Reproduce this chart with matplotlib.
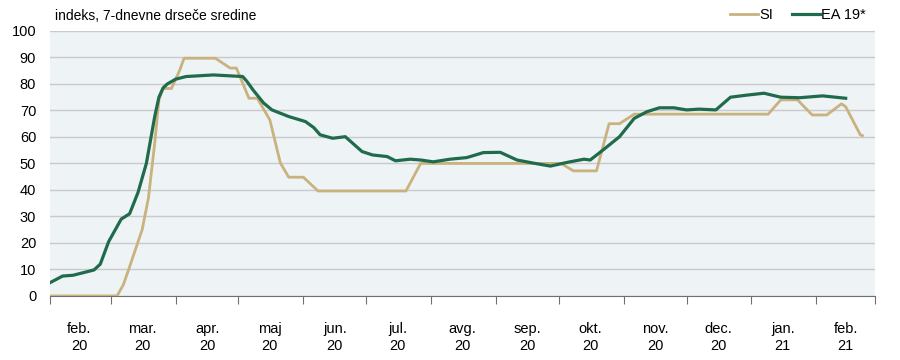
import numpy as np
import matplotlib
matplotlib.use('Agg')
import matplotlib.pyplot as plt

plt.rcParams['font.family'] = ['Liberation Sans', 'DejaVu Sans']

# EA 19* - 7-dnevne drseče sredine (odčitano s slike)
ea_dates = ['2020-02-01', '2020-02-07', '2020-02-12', '2020-02-18', '2020-02-22', '2020-02-25',
            '2020-02-29', '2020-03-06', '2020-03-10', '2020-03-14', '2020-03-18', '2020-03-22',
            '2020-03-24', '2020-03-26', '2020-03-28', '2020-04-01', '2020-04-06', '2020-04-19',
            '2020-05-03', '2020-05-05', '2020-05-08', '2020-05-13', '2020-05-17', '2020-05-25',
            '2020-06-02', '2020-06-06', '2020-06-09', '2020-06-15', '2020-06-21', '2020-06-29',
            '2020-07-04', '2020-07-11', '2020-07-15', '2020-07-22', '2020-07-27', '2020-08-02',
            '2020-08-10', '2020-08-18', '2020-08-26', '2020-09-03', '2020-09-11', '2020-09-19',
            '2020-09-27', '2020-10-05', '2020-10-13', '2020-10-16', '2020-10-22', '2020-10-30',
            '2020-11-06', '2020-11-12', '2020-11-18', '2020-11-25', '2020-12-01', '2020-12-07',
            '2020-12-15', '2020-12-22', '2020-12-30', '2021-01-07', '2021-01-15', '2021-01-24',
            '2021-02-04', '2021-02-15']
ea_vals = [5, 7.5, 7.8, 9, 9.8, 12,
           20.5, 29, 31, 39, 50, 67.7,
           75, 78.5, 80, 81.8, 82.8, 83.4,
           82.8, 81, 77.7, 72.8, 70.2, 67.7,
           65.8, 63.5, 60.8, 59.5, 60.1, 54.5,
           53.2, 52.6, 51, 51.6, 51.3, 50.6,
           51.6, 52.2, 54.1, 54.2, 51.3, 50.1,
           49, 50.4, 51.6, 51.3, 55, 60.1,
           67, 69.5, 71, 71, 70.2, 70.5,
           70.2, 75, 75.8, 76.5, 75, 74.8,
           75.5, 74.6]

# SI
si_dates = ['2020-02-01', '2020-03-04', '2020-03-07', '2020-03-10', '2020-03-16', '2020-03-19',
            '2020-03-22', '2020-03-24', '2020-03-26', '2020-03-30', '2020-04-03', '2020-04-05',
            '2020-04-20', '2020-04-27', '2020-04-30', '2020-05-06', '2020-05-10', '2020-05-16',
            '2020-05-21', '2020-05-25', '2020-06-01', '2020-06-08', '2020-07-20', '2020-07-27',
            '2020-10-02', '2020-10-08', '2020-10-19', '2020-10-25', '2020-10-30', '2020-11-06',
            '2021-01-09', '2021-01-15', '2021-01-23', '2021-01-30', '2021-02-06', '2021-02-13',
            '2021-02-15', '2021-02-22', '2021-02-23']
si_vals = [0, 0, 4.2, 11, 25, 37,
           57.7, 74, 78.3, 78.3, 85.3, 89.7,
           89.7, 86, 86, 74.6, 74.6, 66.4,
           50.2, 44.8, 44.8, 39.6, 39.6, 50,
           50, 47.2, 47.2, 65, 65, 68.6,
           68.6, 74, 74, 68.3, 68.3, 72.5,
           71.4, 60.8, 60.5]

month_labels = ['feb.\n20', 'mar.\n20', 'apr.\n20', 'maj\n20', 'jun.\n20', 'jul.\n20', 'avg.\n20',
                'sep.\n20', 'okt.\n20', 'nov.\n20', 'dec.\n20', 'jan.\n21', 'feb.\n21']

c_si = '#C9B27E'
c_ea = '#1F6B4C'

fig = plt.figure(figsize=(9, 3.6), dpi=100)
ax = fig.add_axes([0.0556, 0.178, 0.9166, 0.736])
ax.set_facecolor('#EEF3F6')

ax.plot(np.array(si_dates, dtype='datetime64[D]'), si_vals, color=c_si, lw=2.0, label='SI',
        solid_joinstyle='round', zorder=3)
ax.plot(np.array(ea_dates, dtype='datetime64[D]'), ea_vals, color=c_ea, lw=2.3, label='EA 19*',
        solid_joinstyle='round', zorder=4)

ax.set_ylim(0, 100)
ax.set_yticks(np.arange(0, 101, 10))
ax.yaxis.grid(True, color='#C8CACC', lw=1)
ax.set_axisbelow(True)

# meje mesecev (kljukice) in oznake na sredini meseca
start = np.datetime64('2020-02-01')
end = np.datetime64('2021-03-01')
ax.set_xlim(start, end)
bounds = np.arange(np.datetime64('2020-02'), np.datetime64('2021-04'), np.timedelta64(1, 'M')).astype('datetime64[D]')
ax.set_xticks(bounds)
ax.set_xticklabels([])
mids = bounds[:-1] + (bounds[1:] - bounds[:-1]) / 2
ax.set_xticks(mids, minor=True)
ax.set_xticklabels(month_labels, minor=True)
ax.tick_params(axis='x', which='major', length=6, color='#707070', direction='out')
ax.tick_params(axis='x', which='minor', length=0, pad=19, labelsize=10.5)
ax.tick_params(axis='y', length=0, labelsize=10.5, pad=10)

for s in ['top', 'right', 'left']:
    ax.spines[s].set_visible(False)
ax.spines['bottom'].set_color('#707070')

fig.text(0.061, 0.935, 'indeks, 7-dnevne drseče sredine', fontsize=10, ha='left', va='bottom')
ax.legend(loc='lower right', bbox_to_anchor=(1.0, 1.0), ncol=2, frameon=False, fontsize=10.5,
          handlelength=1.9, handletextpad=0.1, columnspacing=1.3, borderaxespad=0.2)

fig.savefig('out.png', dpi=100)
